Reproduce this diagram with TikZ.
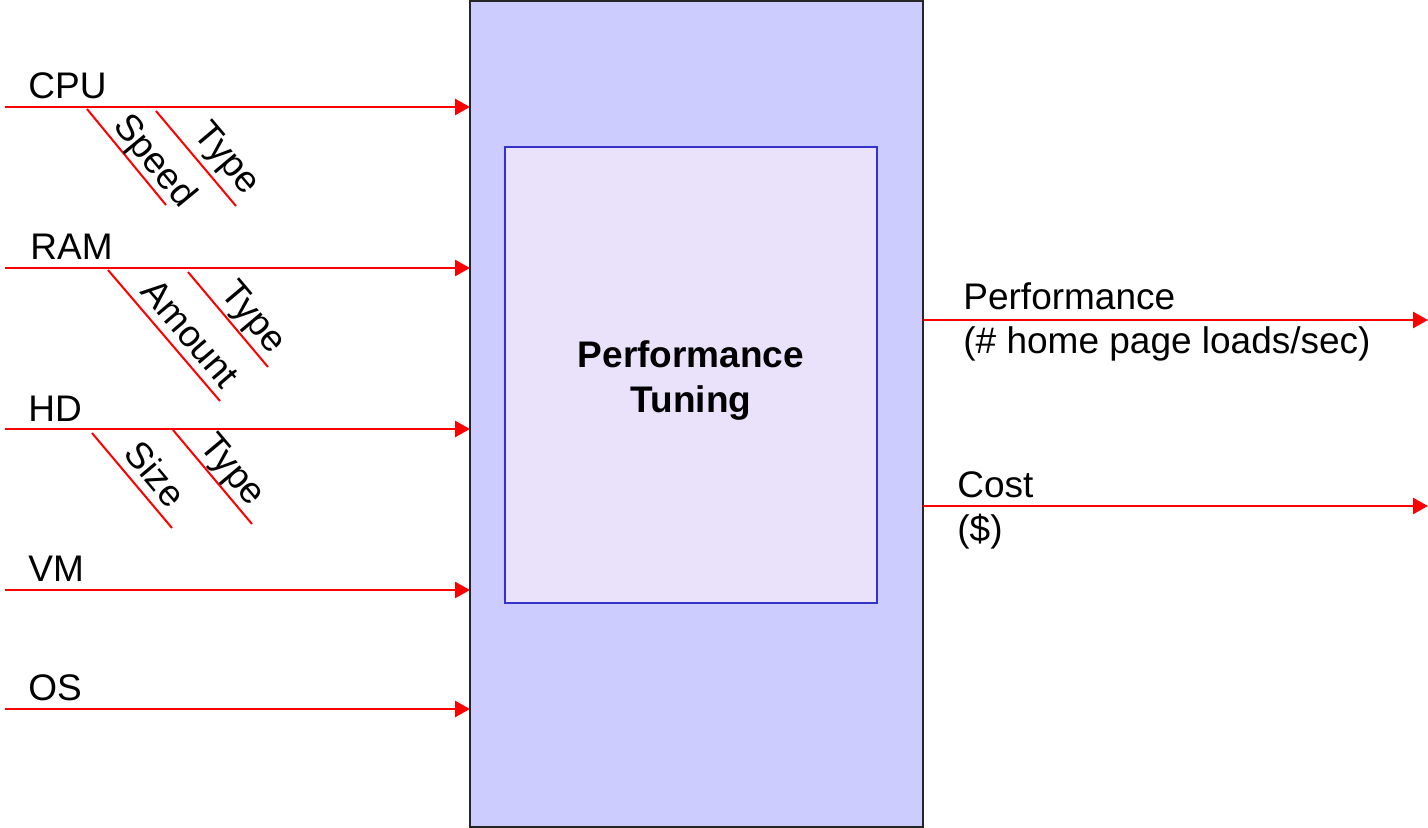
\documentclass[tikz,border=0pt]{standalone}
\usepackage{fontspec}
\setmainfont{Liberation Sans}
\usetikzlibrary{arrows.meta}
\definecolor{outerblue}{RGB}{204,204,255}
\definecolor{innerlilac}{RGB}{234,225,250}
\definecolor{innerline}{RGB}{51,51,204}
\begin{document}
\begin{tikzpicture}[x=0.5pt,y=-0.5pt,
    font=\fontsize{18.5}{22}\selectfont,
    feed/.style={red,line width=1.3pt,-{Triangle[length=7.5pt,width=8pt]}},
    tick/.style={red,line width=1pt},
    slant/.style={sloped,anchor=base,inner sep=0pt,text=black}]
  \useasboundingbox (0,0) rectangle (1428,828);
  % the two boxes
  \node[draw=black!85,line width=1pt,fill=outerblue,inner sep=0pt,outer sep=0pt,
    minimum width=226.5pt,minimum height=413pt] (tune) at (696.5,414) {};
  \node[draw=innerline,line width=1pt,fill=innerlilac,inner sep=0pt,outer sep=0pt,
    minimum width=186pt,minimum height=228pt] (core) at (691,375) {};
  \node[align=center,font=\fontsize{18.5}{22.5}\selectfont\bfseries] (title) at (691,381) {Performance\\Tuning};
  % inputs
  \coordinate (cpu) at (5,107);
  \coordinate (ram) at (5,268);
  \coordinate (hd) at (5,429);
  \coordinate (vm) at (5,590);
  \coordinate (os) at (5,709);
  \draw[feed] (cpu) -- (cpu -| tune.west);
  \draw[feed] (ram) -- (ram -| tune.west);
  \draw[feed] (hd) -- (hd -| tune.west);
  \draw[feed] (vm) -- (vm -| tune.west);
  \draw[feed] (os) -- (os -| tune.west);
  \node[anchor=base west,inner sep=0pt] (cpulbl) at (28,99) {CPU};
  \node[anchor=base west,inner sep=0pt] (ramlbl) at (30,260) {RAM};
  \node[anchor=base west,inner sep=0pt] (hdlbl) at (28,421) {HD};
  \node[anchor=base west,inner sep=0pt] (vmlbl) at (28,581) {VM};
  \node[anchor=base west,inner sep=0pt] (oslbl) at (28,700) {OS};
  % parameters
  \draw[tick] (87,109) -- (166,205) node[slant,pos=0.67,yshift=4pt] {Speed};
  \draw[tick] (156,111) -- (236,206) node[slant,pos=0.66,yshift=6.5pt] {Type};
  \draw[tick] (108,270) -- (220,401) node[slant,pos=0.59,yshift=4.5pt] {Amount};
  \draw[tick] (188,272) -- (268,367) node[slant,pos=0.62,yshift=5pt] {Type};
  \draw[tick] (92,433) -- (172,528) node[slant,pos=0.58,yshift=4.5pt] {Size};
  \draw[tick] (173,430) -- (252,524) node[slant,pos=0.56,yshift=4.5pt] {Type};
  % outputs
  \coordinate (perf) at (1428,320);
  \coordinate (cost) at (1428,506);
  \draw[feed] (tune.east |- perf) -- (perf);
  \draw[feed] (tune.east |- cost) -- (cost);
  \node[anchor=base west,inner sep=0pt] (perflbl) at (963,310) {Performance};
  \node[anchor=base west,inner sep=0pt] (perfunit) at (963,354) {(\# home page loads/sec)};
  \node[anchor=base west,inner sep=0pt] (costlbl) at (957,497) {Cost};
  \node[anchor=base west,inner sep=0pt] (costunit) at (957,541) {(\$)};
\end{tikzpicture}
\end{document}
